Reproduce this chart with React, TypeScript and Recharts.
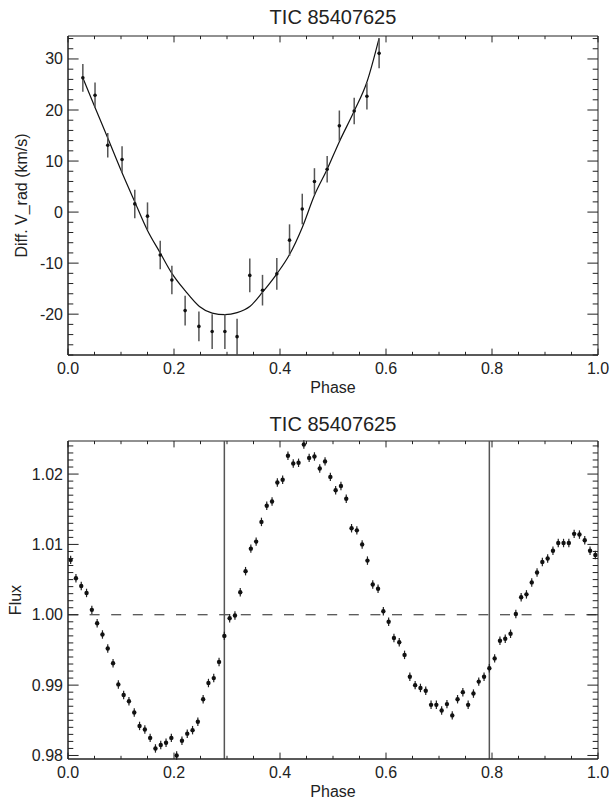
import React from 'react';
import {
  ComposedChart,
  Scatter,
  Line,
  XAxis,
  YAxis,
  ErrorBar,
  ReferenceLine,
  ReferenceArea,
  Label,
} from 'recharts';

const TITLE = 'TIC 85407625';
const FONT = '"Liberation Sans", Arial, Helvetica, sans-serif';
const INK = '#222';

// --- radial velocities (top panel) ---
const rvPhase = [
  0.028, 0.051, 0.075, 0.102, 0.126, 0.150, 0.174, 0.196, 0.221, 0.247, 0.272, 0.296,
  0.319, 0.343, 0.367, 0.394, 0.418, 0.442, 0.465, 0.489, 0.512, 0.540, 0.564, 0.587,
];
const rvValue = [
  26.3, 22.9, 13.1, 10.3, 1.6, -0.8, -8.4, -13.3, -19.3, -22.4, -23.4, -23.4,
  -24.4, -12.4, -15.3, -12.1, -5.5, 0.6, 6.0, 8.4, 16.9, 19.8, 22.7, 31.1,
];
const rvError = [
  2.7, 2.5, 2.4, 2.6, 2.8, 2.7, 2.8, 2.8, 2.9, 2.9, 3.4, 3.4,
  3.5, 3.3, 3.0, 3.1, 3.1, 3.0, 2.6, 2.6, 3.0, 2.6, 2.6, 2.9,
];

// fitted RV curve
const modelPhase = [
  0.028, 0.051, 0.075, 0.102, 0.126, 0.150, 0.174, 0.196, 0.221, 0.248, 0.272, 0.296,
  0.319, 0.343, 0.367, 0.394, 0.418, 0.442, 0.465, 0.489, 0.512, 0.540, 0.564, 0.587,
];
const modelValue = [
  26.3, 20.5, 14.5, 7.7, 2.0, -3.6, -8.0, -12.0, -15.4, -18.5, -19.8, -20.1,
  -19.7, -18.5, -15.7, -12.1, -8.3, -3.0, 3.3, 8.4, 13.8, 19.8, 25.5, 34.1,
];

// --- binned light curve (bottom panel) ---
const fluxPhase = [
  0.005, 0.015, 0.025, 0.035, 0.045, 0.055, 0.065, 0.075, 0.085, 0.095,
  0.105, 0.115, 0.125, 0.135, 0.145, 0.155, 0.165, 0.175, 0.185, 0.195,
  0.205, 0.215, 0.225, 0.235, 0.245, 0.255, 0.265, 0.275, 0.285, 0.295,
  0.305, 0.315, 0.325, 0.335, 0.345, 0.355, 0.365, 0.375, 0.385, 0.395,
  0.405, 0.415, 0.425, 0.435, 0.445, 0.455, 0.465, 0.475, 0.485, 0.495,
  0.505, 0.515, 0.525, 0.535, 0.545, 0.555, 0.565, 0.575, 0.585, 0.595,
  0.605, 0.615, 0.625, 0.635, 0.645, 0.655, 0.665, 0.675, 0.685, 0.695,
  0.705, 0.715, 0.725, 0.735, 0.745, 0.755, 0.765, 0.775, 0.785, 0.795,
  0.805, 0.815, 0.825, 0.835, 0.845, 0.855, 0.865, 0.875, 0.885, 0.895,
  0.905, 0.915, 0.925, 0.935, 0.945, 0.955, 0.965, 0.975, 0.985, 0.995,
];
const fluxValue = [
  1.0078, 1.0052, 1.0041, 1.0031, 1.0007, 0.9988, 0.9972, 0.9952, 0.9931, 0.9901,
  0.9886, 0.9877, 0.9861, 0.9842, 0.9837, 0.9825, 0.981, 0.9815, 0.9818, 0.9825,
  0.98, 0.9821, 0.9831, 0.9836, 0.9848, 0.988, 0.9903, 0.991, 0.9933, 0.997,
  0.9995, 0.9999, 1.0032, 1.0062, 1.0094, 1.0104, 1.0132, 1.0155, 1.0161, 1.0188,
  1.0192, 1.0226, 1.0215, 1.0216, 1.0242, 1.0223, 1.0225, 1.0208, 1.0218, 1.0196,
  1.0177, 1.0183, 1.0165, 1.0123, 1.012, 1.01, 1.0077, 1.0043, 1.0037, 1.0005,
  0.999, 0.9967, 0.9961, 0.9943, 0.9912, 0.99, 0.9896, 0.9892, 0.9872, 0.9872,
  0.9864, 0.9873, 0.9857, 0.988, 0.989, 0.9872, 0.9888, 0.9905, 0.9912, 0.9924,
  0.9938, 0.9963, 0.9966, 0.9973, 1.0001, 1.0025, 1.0029, 1.0046, 1.006, 1.0075,
  1.008, 1.0091, 1.0102, 1.0102, 1.0102, 1.0115, 1.0114, 1.0106, 1.0091, 1.0085,
];
const FLUX_ERR = 0.0006;
const eclipsePhases = [0.295, 0.795];

// ticks
const xMajor = [0, 0.2, 0.4, 0.6, 0.8, 1.0];
const rvMajor = [-20, -10, 0, 10, 20, 30];
const fluxMajor = [0.98, 0.99, 1.0, 1.01, 1.02];
const xTicks: number[] = [];
for (let i = 0; i <= 20; i++) xTicks.push(+(i * 0.05).toFixed(2));
const rvTicks: number[] = [];
for (let v = -28; v <= 34; v += 2) rvTicks.push(v);
const fluxTicks: number[] = [];
for (let i = 0; i <= 44; i++) fluxTicks.push(+(0.98 + i * 0.001).toFixed(3));

const rvData = rvPhase.map((p, i) => ({ phase: p, v: rvValue[i], err: rvError[i] }));
const modelData = modelPhase.map((p, i) => ({ phase: p, v: modelValue[i] }));
const fluxData = fluxPhase.map((p, i) => ({ phase: p, v: fluxValue[i], err: FLUX_ERR }));

const isIn = (arr: number[], v: number) => arr.some((m) => Math.abs(m - v) < 1e-9);

// IDL style ticks: inward, mirrored on the opposite side
function makeXTick(plotH: number) {
  return (props: any) => {
    const { x, y, payload } = props;
    const major = isIn(xMajor, payload.value);
    const len = major ? 6.4 : 3.2;
    return (
      <g>
        <line x1={x} x2={x} y1={y} y2={y - len} stroke={INK} />
        <line x1={x} x2={x} y1={y - plotH} y2={y - plotH + len} stroke={INK} />
        {major && (
          <text x={x} y={y + 19} textAnchor="middle" fontSize={16} fontFamily={FONT} fill={INK}>
            {payload.value.toFixed(1)}
          </text>
        )}
      </g>
    );
  };
}

function makeYTick(plotW: number, majors: number[], fmt: (v: number) => string) {
  return (props: any) => {
    const { x, y, payload } = props;
    const major = isIn(majors, payload.value);
    const len = major ? 10.6 : 5.3;
    return (
      <g>
        <line x1={x} x2={x + len} y1={y} y2={y} stroke={INK} />
        <line x1={x + plotW} x2={x + plotW - len} y1={y} y2={y} stroke={INK} />
        {major && (
          <text x={x - 5} y={y + 5.5} textAnchor="end" fontSize={16} fontFamily={FONT} fill={INK}>
            {fmt(payload.value)}
          </text>
        )}
      </g>
    );
  };
}

const phaseLabel = (props: any) => {
  const vb = props.viewBox;
  return (
    <text x={vb.x + vb.width / 2} y={vb.y + 38} textAnchor="middle" fontSize={16} fontFamily={FONT} fill={INK}>
      Phase
    </text>
  );
};

const yLabel = (text: string, bx: number) => (props: any) => {
  const vb = props.viewBox;
  const cy = vb.y + vb.height / 2;
  return (
    <text
      x={bx}
      y={cy}
      transform={`rotate(-90 ${bx} ${cy})`}
      textAnchor="middle"
      fontSize={16}
      fontFamily={FONT}
      fill={INK}
    >
      {text}
    </text>
  );
};

const rvDot = (props: any) => <circle cx={props.cx} cy={props.cy} r={1.8} fill="#111" />;
const fluxDot = (props: any) => <circle cx={props.cx} cy={props.cy} r={2.2} fill="#111" />;

const W = 613;
const H = 401;
const PLOT_W = 530;

const titleStyle = (top: number): React.CSSProperties => ({
  position: 'absolute',
  left: 68,
  width: PLOT_W,
  top,
  textAlign: 'center',
  fontFamily: FONT,
  fontSize: 20,
  lineHeight: '20px',
  color: INK,
});

export default function App() {
  const rvDomain: [number, number] = [-28, 34.5];
  const fluxDomain: [number, number] = [0.9795, 1.0247];

  return (
    <div style={{ position: 'absolute', left: 0, top: 0, width: W, height: 802, background: '#fff' }}>
      <div style={titleStyle(7)}>{TITLE}</div>
      <div style={{ position: 'absolute', left: 0, top: 0 }}>
        <ComposedChart width={W} height={H} margin={{ top: 36, right: 15, bottom: 0, left: 0 }}>
          <XAxis
            type="number"
            dataKey="phase"
            domain={[0, 1]}
            ticks={xTicks}
            interval={0}
            allowDataOverflow
            height={46}
            tickSize={0}
            tickMargin={0}
            axisLine={{ stroke: INK }}
            tick={makeXTick(319)}
          >
            <Label content={phaseLabel} />
          </XAxis>
          <YAxis
            type="number"
            domain={rvDomain}
            ticks={rvTicks}
            interval={0}
            allowDataOverflow
            width={68}
            tickSize={0}
            tickMargin={0}
            axisLine={{ stroke: INK }}
            tick={makeYTick(PLOT_W, rvMajor, (v) => String(v))}
          >
            <Label content={yLabel('Diff. V_rad (km/s)', 27)} />
          </YAxis>
          <ReferenceArea x1={0} x2={1} y1={rvDomain[0]} y2={rvDomain[1]} fill="none" stroke={INK} />
          <Line
            data={modelData}
            dataKey="v"
            type="monotone"
            stroke="#111"
            strokeWidth={1.2}
            dot={false}
            activeDot={false}
            isAnimationActive={false}
          />
          <Scatter data={rvData} dataKey="v" shape={rvDot} isAnimationActive={false}>
            <ErrorBar dataKey="err" direction="y" width={0} stroke="#555" strokeWidth={1.5} />
          </Scatter>
        </ComposedChart>
      </div>

      <div style={titleStyle(414)}>{TITLE}</div>
      <div style={{ position: 'absolute', left: 0, top: H }}>
        <ComposedChart width={W} height={H} margin={{ top: 40, right: 15, bottom: 0, left: 0 }}>
          <XAxis
            type="number"
            dataKey="phase"
            domain={[0, 1]}
            ticks={xTicks}
            interval={0}
            allowDataOverflow
            height={43}
            tickSize={0}
            tickMargin={0}
            axisLine={{ stroke: INK }}
            tick={makeXTick(318)}
          >
            <Label content={phaseLabel} />
          </XAxis>
          <YAxis
            type="number"
            domain={fluxDomain}
            ticks={fluxTicks}
            interval={0}
            allowDataOverflow
            width={68}
            tickSize={0}
            tickMargin={0}
            axisLine={{ stroke: INK }}
            tick={makeYTick(PLOT_W, fluxMajor, (v) => v.toFixed(2))}
          >
            <Label content={yLabel('Flux', 21)} />
          </YAxis>
          <ReferenceArea x1={0} x2={1} y1={fluxDomain[0]} y2={fluxDomain[1]} fill="none" stroke={INK} />
          <ReferenceLine y={1} stroke={INK} strokeDasharray="10 11.6" />
          {eclipsePhases.map((p) => (
            <ReferenceLine key={p} x={p} stroke="#555" strokeWidth={1.5} />
          ))}
          <Scatter data={fluxData} dataKey="v" shape={fluxDot} isAnimationActive={false}>
            <ErrorBar dataKey="err" direction="y" width={0} stroke="#222" strokeWidth={1.2} />
          </Scatter>
        </ComposedChart>
      </div>
    </div>
  );
}
